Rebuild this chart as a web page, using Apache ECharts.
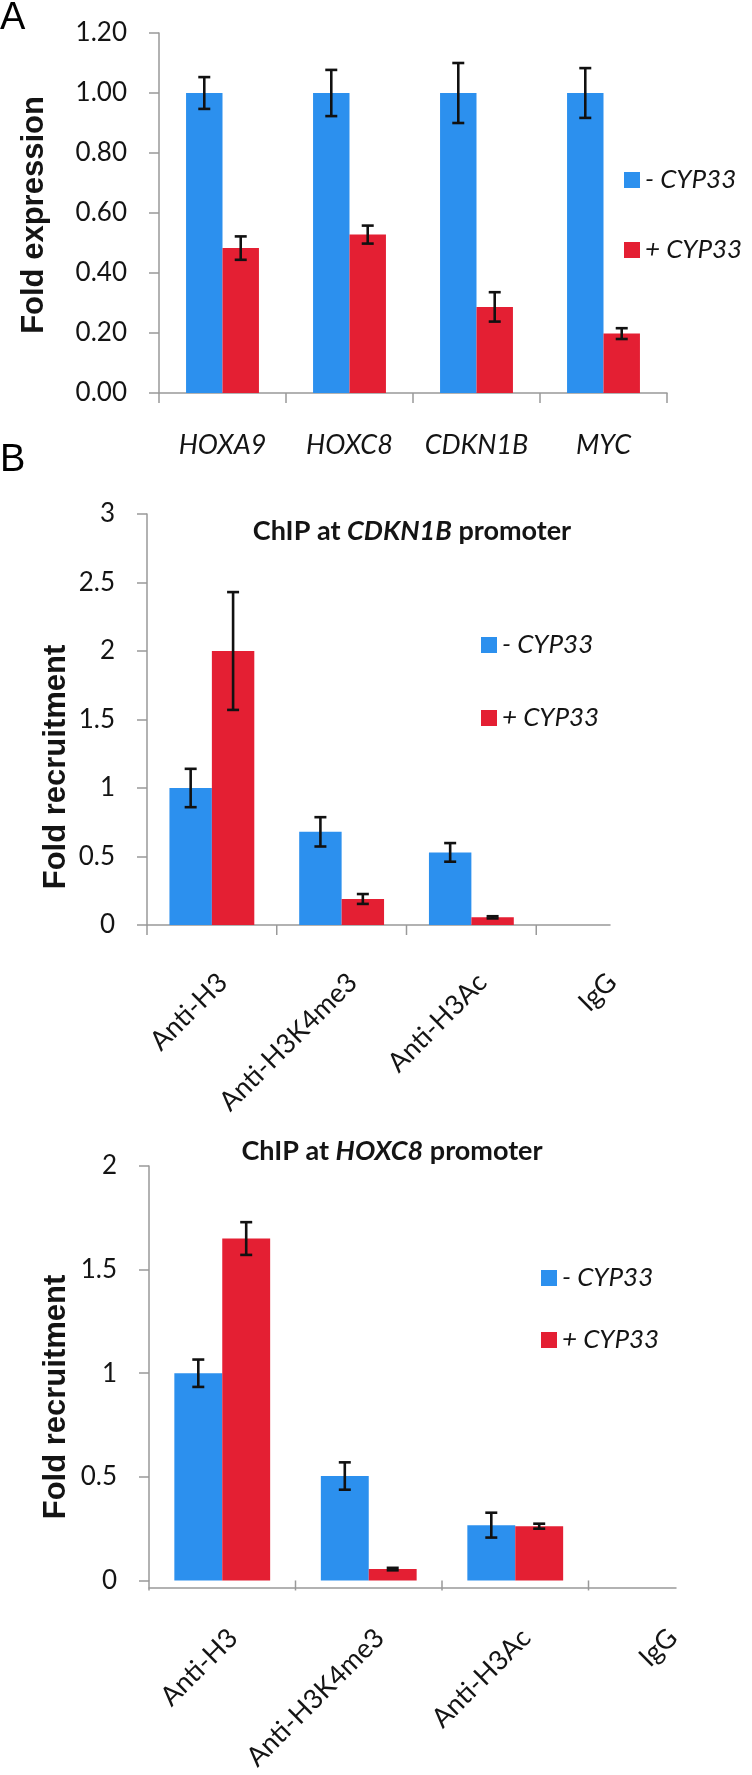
<!DOCTYPE html>
<html><head><meta charset="utf-8">
<script src="https://cdn.jsdelivr.net/npm/echarts@6/dist/echarts.min.js"></script>
<style>html,body{margin:0;padding:0;background:#fff}#c{width:752px;height:1775px}</style>
</head><body><div id="c"></div>
<script>
// ---------- data ----------
const seriesNames = ['- CYP33', '+ CYP33'];
const genesA = ['HOXA9', 'HOXC8', 'CDKN1B', 'MYC'];
const minusA = [1.00, 1.00, 1.00, 1.00];
const minusAErr = [0.053, 0.077, 0.10, 0.083];
const plusA = [0.483, 0.528, 0.287, 0.198];
const plusAErr = [0.039, 0.030, 0.049, 0.018];

const antibodies = ['Anti-H3', 'Anti-H3K4me3', 'Anti-H3Ac', 'IgG'];
const minusB1 = [1.00, 0.68, 0.53, 0];
const minusB1Err = [0.14, 0.107, 0.068, 0];
const plusB1 = [2.00, 0.19, 0.056, 0];
const plusB1Err = [0.43, 0.036, 0.008, 0];

const minusB2 = [1.00, 0.504, 0.267, 0];
const minusB2Err = [0.066, 0.066, 0.06, 0];
const plusB2 = [1.65, 0.055, 0.262, 0];
const plusB2Err = [0.079, 0.006, 0.012, 0];

// ---------- style ----------
const BLUE = '#2C90EE', RED = '#E41F33', AXIS = '#999999', TXT = '#141414';
const FONT = 'Lato';
const fracA = 0.287, fracB = 0.327;

function errRender(frac, side) {
  return function (params, api) {
    const i = api.value(0), v = api.value(1), e = api.value(2);
    if (!e) return;
    const bw = api.size([1, 0])[0] * frac;
    const x = api.coord([i, v])[0] + side * bw / 2;
    const yt = api.coord([i, v + e])[1], yb = api.coord([i, v - e])[1];
    const cap = 6, st = { stroke: '#111', lineWidth: 2.6 };
    return { type: 'group', children: [
      { type: 'line', shape: { x1: x, y1: yt, x2: x, y2: yb }, style: st },
      { type: 'line', shape: { x1: x - cap, y1: yt, x2: x + cap, y2: yt }, style: st },
      { type: 'line', shape: { x1: x - cap, y1: yb, x2: x + cap, y2: yb }, style: st }
    ] };
  };
}
function tickRender(params, api) {
  const i = api.value(0);
  const p = api.coord([i, 0]);
  const xb = p[0] - api.size([1, 0])[0] / 2;
  return { type: 'line', shape: { x1: xb, y1: p[1], x2: xb, y2: p[1] + 10 }, style: { stroke: AXIS, lineWidth: 1.5 } };
}
function triples(vals, errs) { return vals.map((v, i) => [i, v, errs[i]]); }

function valueAxis(gi, max, interval, fmt) {
  return { type: 'value', gridIndex: gi, min: 0, max: max, interval: interval,
    axisLine: { show: true, lineStyle: { color: AXIS, width: 1.5 } },
    axisTick: { show: true, length: 10, inside: false, lineStyle: { color: AXIS, width: 1.5 } },
    splitLine: { show: false },
    axisLabel: { margin: 32, fontFamily: FONT, fontSize: 26, color: TXT, formatter: fmt } };
}
function hiddenY(gi) { return { type: 'value', gridIndex: gi, min: 0, max: 1, show: false }; }
function lineX(gi) {
  return { type: 'value', gridIndex: gi, min: 0, max: 1,
    axisLine: { show: true, onZero: false, lineStyle: { color: AXIS, width: 1.5 } },
    axisTick: { show: false }, axisLabel: { show: false }, splitLine: { show: false } };
}
function catRot(gi) {
  return { type: 'category', gridIndex: gi, data: antibodies,
    axisLine: { show: false }, axisTick: { show: false },
    axisLabel: { interval: 0, rotate: 45, margin: 42, verticalAlign: 'top', lineHeight: 31,
      fontFamily: FONT, fontSize: 27, color: TXT } };
}
function bar(name, color, xi, yi, vals, frac) {
  return { type: 'bar', name: name, xAxisIndex: xi, yAxisIndex: yi, data: vals,
    barWidth: (frac * 100) + '%', barGap: '0%', itemStyle: { color: color }, z: 2 };
}
function err(xi, yi, vals, errs, frac, side) {
  return { type: 'custom', xAxisIndex: xi, yAxisIndex: yi, renderItem: errRender(frac, side),
    data: triples(vals, errs), encode: { x: 0, y: 1 }, z: 5, silent: true };
}
function ticks(xi, yi) {
  return { type: 'custom', xAxisIndex: xi, yAxisIndex: yi, renderItem: tickRender,
    data: antibodies.map((c, i) => [i, 0]), encode: { x: 0, y: 1 }, z: 3, silent: true };
}
function legend(left, top, gap) {
  return { data: seriesNames, orient: 'vertical', left: left, top: top, itemWidth: 16, itemHeight: 16,
    itemGap: gap, icon: 'rect', padding: 0, selectedMode: false,
    textStyle: { fontFamily: FONT, fontStyle: 'italic', fontSize: 26, color: TXT, lineHeight: 16 } };
}
function titleText(y, x, gene) {
  return { type: 'text', x: x, y: y, style: {
    text: '{b|ChIP at }{bi|' + gene + '}{b| promoter}', textAlign: 'center', textVerticalAlign: 'middle',
    rich: { b: { fontFamily: FONT, fontWeight: 'bold', fontSize: 27, fill: TXT },
            bi: { fontFamily: FONT, fontWeight: 'bold', fontStyle: 'italic', fontSize: 27, fill: TXT } } } };
}
function yName(text, x, y) {
  return { type: 'text', x: x, y: y, rotation: Math.PI / 2, style: {
    text: text, font: 'bold 31px "Liberation Sans", Arial, sans-serif', fill: TXT,
    textAlign: 'center', textVerticalAlign: 'middle' } };
}

const chart = echarts.init(document.getElementById('c'), null, { renderer: 'canvas', width: 752, height: 1775 });
chart.setOption({
  animation: false,
  backgroundColor: '#fff',
  grid: [
    { left: 159, right: 85, top: 33, height: 360 },
    { left: 147, right: 86, top: 514, height: 411 },
    { left: 147, right: 142, top: 514, height: 411 },
    { left: 149, right: 17, top: 1166, height: 422 },
    { left: 149, right: 76, top: 1166, height: 422 }
  ],
  xAxis: [
    { type: 'category', gridIndex: 0, data: genesA,
      axisLine: { show: true, lineStyle: { color: AXIS, width: 1.5 } },
      axisTick: { show: true, length: 10, lineStyle: { color: AXIS, width: 1.5 } },
      axisLabel: { interval: 0, margin: 39, fontFamily: FONT, fontStyle: 'italic', fontSize: 27, color: TXT } },
    catRot(1), lineX(2), catRot(3), lineX(4)
  ],
  yAxis: [
    valueAxis(0, 1.2, 0.2, v => v.toFixed(2)),
    valueAxis(1, 3, 0.5, v => String(v)),
    hiddenY(2),
    valueAxis(3, 2, 0.5, v => String(v)),
    hiddenY(4)
  ],
  legend: [legend(624, 167, 44), legend(481, 632, 47), legend(541, 1265, 36)],
  series: [
    bar(seriesNames[0], BLUE, 0, 0, minusA, fracA),
    bar(seriesNames[1], RED, 0, 0, plusA, fracA),
    err(0, 0, minusA, minusAErr, fracA, -1),
    err(0, 0, plusA, plusAErr, fracA, 1),

    bar(seriesNames[0], BLUE, 1, 1, minusB1, fracB),
    bar(seriesNames[1], RED, 1, 1, plusB1, fracB),
    err(1, 1, minusB1, minusB1Err, fracB, -1),
    err(1, 1, plusB1, plusB1Err, fracB, 1),
    ticks(1, 1),

    bar(seriesNames[0], BLUE, 3, 3, minusB2, fracB),
    bar(seriesNames[1], RED, 3, 3, plusB2, fracB),
    err(3, 3, minusB2, minusB2Err, fracB, -1),
    err(3, 3, plusB2, plusB2Err, fracB, 1),
    ticks(3, 3)
  ],
  graphic: [
    { type: 'text', x: 0, y: 19, style: { text: 'A', font: '38px "Liberation Sans", Arial, sans-serif', fill: '#000', textVerticalAlign: 'middle' } },
    { type: 'text', x: 0, y: 461, style: { text: 'B', font: '38px "Liberation Sans", Arial, sans-serif', fill: '#000', textVerticalAlign: 'middle' } },
    yName('Fold expression', 34, 215),
    yName('Fold recruitment', 56, 767),
    yName('Fold recruitment', 56, 1397),
    titleText(531, 412, 'CDKN1B'),
    titleText(1151, 392, 'HOXC8')
  ]
});
</script>
</body></html>
